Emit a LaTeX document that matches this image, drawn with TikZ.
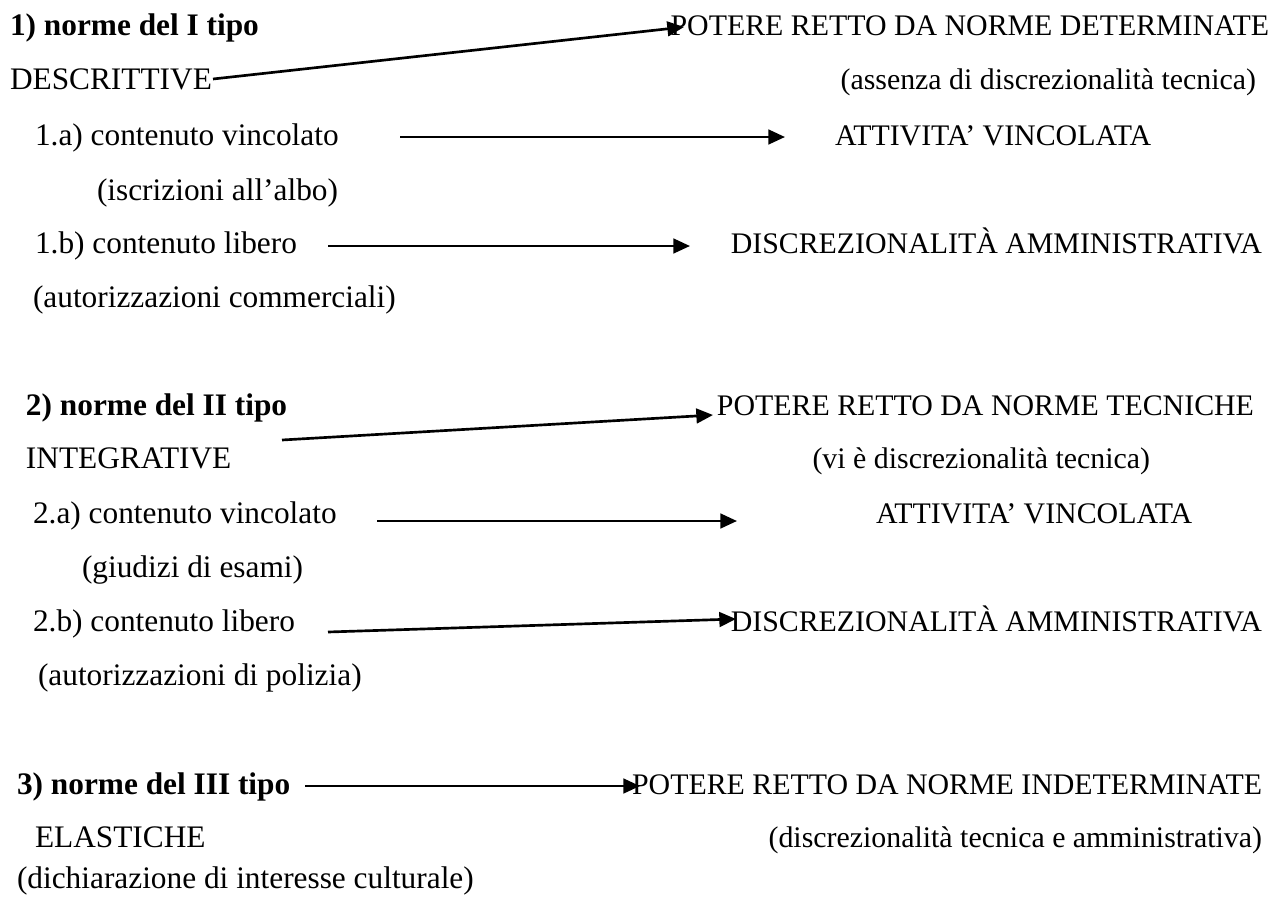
\documentclass[tikz,border=0pt]{standalone}
\usepackage{fontspec}
\setmainfont{Liberation Serif}
\usetikzlibrary{arrows.meta}
\begin{document}
\begin{tikzpicture}[x=0.75pt,y=-0.75pt,
  txt/.style={anchor=base west,inner sep=0pt,outer sep=0pt,font=\fontsize{23.5}{28}\selectfont},
  rt/.style={anchor=base west,inner sep=0pt,outer sep=0pt,font=\fontsize{22.4}{27}\selectfont},
  rtr/.style={rt,anchor=base east},
  hd/.style={txt,font=\fontsize{23.5}{28}\selectfont\bfseries},
  arr/.style={line width=2pt,-{Triangle[length=12.5pt,width=11pt]}}]
\useasboundingbox[fill=white] (0,0) rectangle (1280,903);
% group 1
\node[hd]  (t1)  at (10,35)  {1) norme del I tipo};
\node[txt] (t2)  at (10,89)  {DESCRITTIVE};
\node[txt] (t3)  at (35,145) {1.a) contenuto vincolato};
\node[txt] (t4)  at (97,200) {(iscrizioni all’albo)};
\node[txt] (t5)  at (35,253) {1.b) contenuto libero};
\node[txt] (t6)  at (33,307) {(autorizzazioni commerciali)};
\node[rtr] (r1) at (1269,35)  {POTERE RETTO DA NORME DETERMINATE};
\node[rtr] (r2) at (1256,89)  {(assenza di discrezionalità tecnica)};
\node[rt]  (r3) at (835,145)  {ATTIVITA’ VINCOLATA};
\node[rtr] (r4) at (1262,253) {DISCREZIONALITÀ AMMINISTRATIVA};
% group 2
\node[hd]  (t7)  at (26,415) {2) norme del II tipo};
\node[txt] (t8)  at (26,468) {INTEGRATIVE};
\node[txt] (t9)  at (33,523) {2.a) contenuto vincolato};
\node[txt] (t10) at (82,577) {(giudizi di esami)};
\node[txt] (t11) at (33,631) {2.b) contenuto libero};
\node[txt] (t12) at (38,685) {(autorizzazioni di polizia)};
\node[rtr] (r5) at (1254,415) {POTERE RETTO DA NORME TECNICHE};
\node[rtr] (r6) at (1150,468) {(vi è discrezionalità tecnica)};
\node[rt]  (r7) at (876,523)  {ATTIVITA’ VINCOLATA};
\node[rtr] (r8) at (1262,631) {DISCREZIONALITÀ AMMINISTRATIVA};
% group 3
\node[hd]  (t13) at (17,794) {3) norme del III tipo};
\node[txt] (t14) at (35,847) {ELASTICHE};
\node[txt] (t15) at (17,888) {(dichiarazione di interesse culturale)};
\node[rtr] (r9)  at (1262,794) {POTERE RETTO DA NORME INDETERMINATE};
\node[rtr] (r10) at (1262,847) {(discrezionalità tecnica e amministrativa)};
% arrow end points
\coordinate (a1s) at (213,79);  \coordinate (a1e) at (684,27);
\coordinate (a2s) at (400,137); \coordinate (a2e) at (785,137);
\coordinate (a3s) at (328,246); \coordinate (a3e) at (690,246);
\coordinate (a4s) at (282,440); \coordinate (a4e) at (713,415);
\coordinate (a5s) at (377,521); \coordinate (a5e) at (737,521);
\coordinate (a6s) at (328,632); \coordinate (a6e) at (736,619);
\coordinate (a7s) at (305,786); \coordinate (a7e) at (640,786);
\draw[arr] (a1s) -- (a1e);
\draw[arr] (a2s) -- (a2e);
\draw[arr] (a3s) -- (a3e);
\draw[arr] (a4s) -- (a4e);
\draw[arr] (a5s) -- (a5e);
\draw[arr] (a6s) -- (a6e);
\draw[arr] (a7s) -- (a7e);
\end{tikzpicture}
\end{document}
